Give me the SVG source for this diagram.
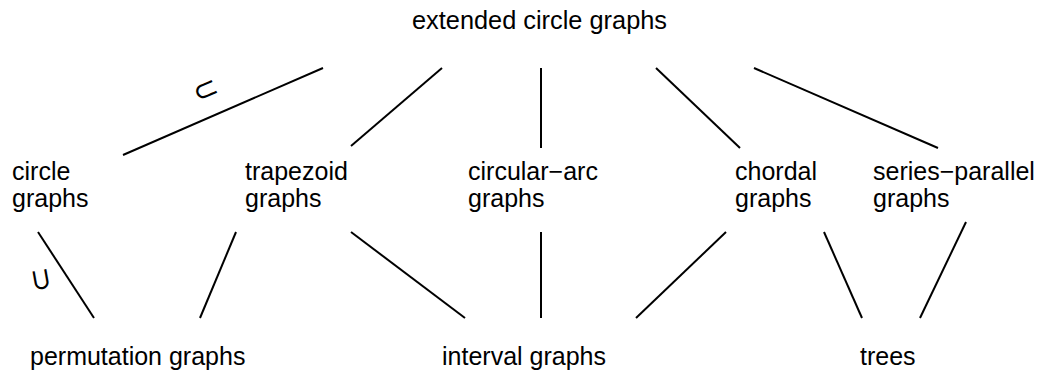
<svg xmlns="http://www.w3.org/2000/svg" width="1039" height="375" viewBox="0 0 1039 375">
<style>
text{font-family:"Liberation Sans",Arial,sans-serif;font-size:25px;fill:#000}
.sub{font-family:"DejaVu Sans",sans-serif;font-size:30px}
line{stroke:#000;stroke-width:2;stroke-linecap:butt}
</style>
<rect width="1039" height="375" fill="#fff"/>
<g id="connectors">
<line x1="123" y1="155" x2="323" y2="68"/>
<line x1="351" y1="146" x2="442" y2="68"/>
<line x1="541" y1="68" x2="541" y2="148"/>
<line x1="656" y1="68" x2="740" y2="148"/>
<line x1="754" y1="68" x2="938" y2="148"/>
<line x1="38" y1="232" x2="94" y2="318"/>
<line x1="236" y1="232" x2="200" y2="318"/>
<line x1="351" y1="232" x2="465" y2="318"/>
<line x1="541" y1="232" x2="541" y2="318"/>
<line x1="726" y1="232" x2="636" y2="318"/>
<line x1="824" y1="232" x2="862" y2="318"/>
<line x1="966" y1="222" x2="920" y2="318"/>
<text class="sub" x="0" y="0" text-anchor="middle" dominant-baseline="central" transform="translate(205,89) rotate(-23.5)">⊂</text>
<text class="sub" x="0" y="0" text-anchor="middle" dominant-baseline="central" transform="translate(40,280) rotate(-100)">⊂</text>
</g>
<g id="extended"><text x="412" y="29" textLength="255" lengthAdjust="spacingAndGlyphs">extended circle graphs</text></g>
<g id="circle"><text x="12" y="180">circle</text><text x="12" y="207">graphs</text></g>
<g id="trapezoid"><text x="245" y="180">trapezoid</text><text x="245" y="207">graphs</text></g>
<g id="circulararc"><text x="468" y="180">circular−arc</text><text x="468" y="207">graphs</text></g>
<g id="chordal"><text x="735" y="180">chordal</text><text x="735" y="207">graphs</text></g>
<g id="seriesparallel"><text x="873" y="180">series−parallel</text><text x="873" y="207">graphs</text></g>
<g id="permutation"><text x="30" y="365">permutation graphs</text></g>
<g id="interval"><text x="442" y="365">interval graphs</text></g>
<g id="trees"><text x="860" y="365">trees</text></g>
</svg>
